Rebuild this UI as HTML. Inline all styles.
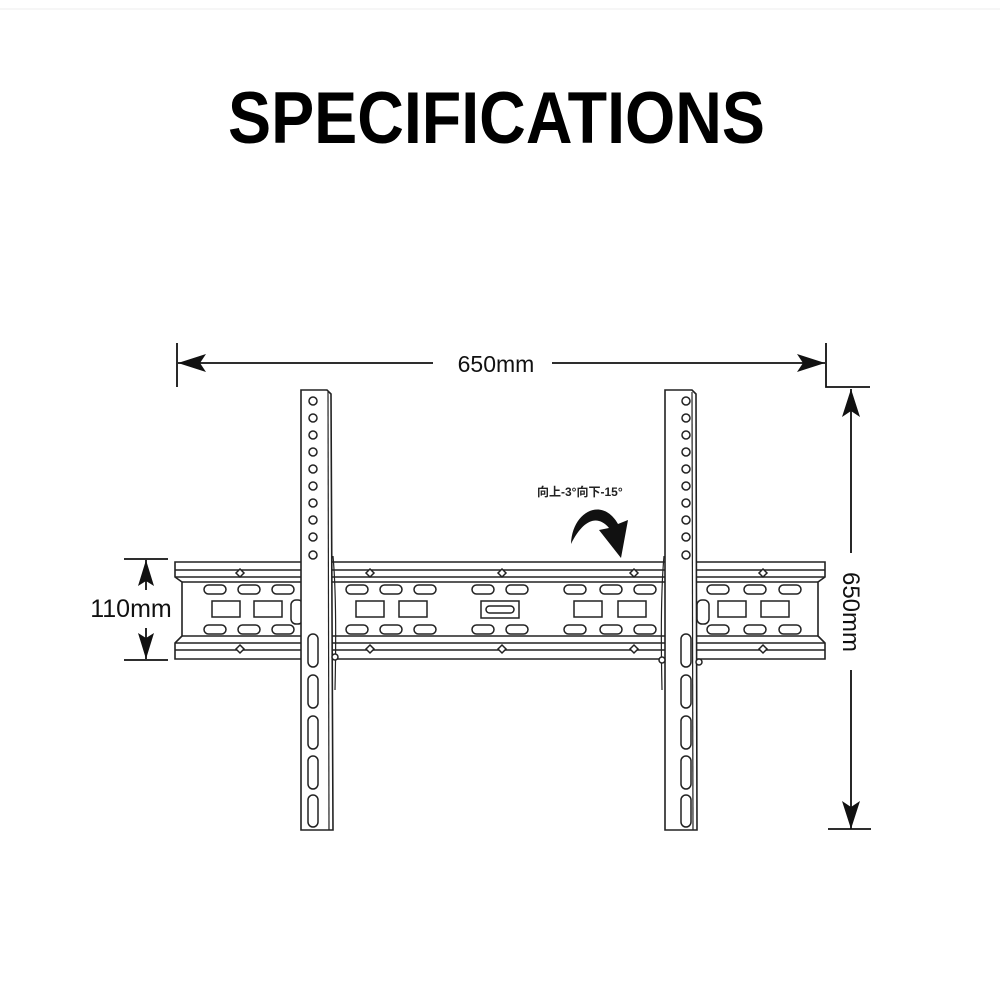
<!DOCTYPE html>
<html><head><meta charset="utf-8"><style>
html,body{margin:0;padding:0;background:#fff;}
svg{display:block}
</style></head><body>
<svg width="1000" height="1000" viewBox="0 0 1000 1000" xmlns="http://www.w3.org/2000/svg">
<rect width="1000" height="1000" fill="#fff"/>
<line x1="0" y1="9" x2="1000" y2="9" stroke="#eee" stroke-width="1"/>
<text x="228" y="143" font-family="Liberation Sans, sans-serif" font-weight="bold" font-size="73" textLength="537" lengthAdjust="spacingAndGlyphs" fill="#000">SPECIFICATIONS</text>

<g stroke="#111" fill="none" stroke-width="1.8">
<line x1="177" y1="343" x2="177" y2="387"/>
<polyline points="826,343 826,387 870,387"/>
<line x1="178" y1="363" x2="433" y2="363"/>
<line x1="552" y1="363" x2="825" y2="363"/>
<line x1="851" y1="389" x2="851" y2="553"/>
<line x1="851" y1="670" x2="851" y2="829"/>
<line x1="828" y1="829" x2="871" y2="829"/>
<line x1="124" y1="559" x2="168" y2="559"/>
<line x1="124" y1="660" x2="168" y2="660"/>
<line x1="146" y1="560" x2="146" y2="590"/>
<line x1="146" y1="628" x2="146" y2="659"/>
</g>
<g fill="#111">
<polygon points="178,363 206,354 200,363 206,372"/>
<polygon points="825,363 797,354 803,363 797,372"/>
<polygon points="851,389 842,417 851,411 860,417"/>
<polygon points="851,829 842,801 851,807 860,801"/>
<polygon points="146,560 138,586 146,581 154,586"/>
<polygon points="146,659 138,633 146,638 154,633"/>
</g>
<text x="496" y="372" text-anchor="middle" font-family="Liberation Sans, sans-serif" font-size="23" fill="#111">650mm</text>
<text x="131" y="617" text-anchor="middle" font-family="Liberation Sans, sans-serif" font-size="25" fill="#111">110mm</text>
<text transform="translate(843,612) rotate(90)" text-anchor="middle" font-family="Liberation Sans, sans-serif" font-size="24" fill="#111">650mm</text>

<g stroke="#222" fill="#fff" stroke-width="1.6">
<path d="M175,562 L825,562 L825,577 L818,582 L818,636 L825,643 L825,659 L175,659 L175,643 L182,636 L182,582 L175,577 Z"/>
</g>
<g stroke="#222" fill="none" stroke-width="1.5">
<line x1="175" y1="570" x2="825" y2="570"/>
<line x1="175" y1="577" x2="825" y2="577"/>
<line x1="182" y1="582" x2="818" y2="582"/>
<line x1="182" y1="636" x2="818" y2="636"/>
<line x1="175" y1="643" x2="825" y2="643"/>
<line x1="175" y1="650" x2="825" y2="650"/>
</g>
<g stroke="#222" fill="#fff" stroke-width="1.5">
<g id="dm">
<polygon points="240,569 244,573 240,577 236,573"/>
<polygon points="370,569 374,573 370,577 366,573"/>
<polygon points="502,569 506,573 502,577 498,573"/>
<polygon points="634,569 638,573 634,577 630,573"/>
<polygon points="763,569 767,573 763,577 759,573"/>
</g>
<use href="#dm" y="76"/>
<g id="ov">
<rect x="204" y="585" width="22" height="9" rx="4.5"/>
<rect x="238" y="585" width="22" height="9" rx="4.5"/>
<rect x="272" y="585" width="22" height="9" rx="4.5"/>
<rect x="346" y="585" width="22" height="9" rx="4.5"/>
<rect x="380" y="585" width="22" height="9" rx="4.5"/>
<rect x="414" y="585" width="22" height="9" rx="4.5"/>
<rect x="472" y="585" width="22" height="9" rx="4.5"/>
<rect x="506" y="585" width="22" height="9" rx="4.5"/>
<rect x="564" y="585" width="22" height="9" rx="4.5"/>
<rect x="600" y="585" width="22" height="9" rx="4.5"/>
<rect x="634" y="585" width="22" height="9" rx="4.5"/>
<rect x="707" y="585" width="22" height="9" rx="4.5"/>
<rect x="744" y="585" width="22" height="9" rx="4.5"/>
<rect x="779" y="585" width="22" height="9" rx="4.5"/>
</g>
<use href="#ov" y="40"/>
<rect x="212" y="601" width="28" height="16"/>
<rect x="254" y="601" width="28" height="16"/>
<rect x="356" y="601" width="28" height="16"/>
<rect x="399" y="601" width="28" height="16"/>
<rect x="574" y="601" width="28" height="16"/>
<rect x="618" y="601" width="28" height="16"/>
<rect x="718" y="601" width="28" height="16"/>
<rect x="761" y="601" width="28" height="16"/>
<rect x="481" y="601" width="38" height="17"/>
<rect x="486" y="606" width="28" height="7" rx="3.5"/>
<rect x="291" y="600" width="12" height="24" rx="5"/>
<rect x="697" y="600" width="12" height="24" rx="5"/>
</g>

<g stroke="#222" fill="#fff" stroke-width="1.6">
<path d="M301,390 L327,390 L331,394 L333,830 L301,830 Z"/>
<path d="M665,390 L692,390 L696,394 L697,830 L665,830 Z"/>
</g>
<g stroke="#222" fill="none" stroke-width="1.2">
<line x1="328" y1="392" x2="329" y2="830"/>
<line x1="692" y1="392" x2="693" y2="830"/>
<path d="M333,556 Q337,600 335,690"/>
<path d="M664,556 Q660,600 662,690"/>
</g>
<g stroke="#222" fill="#fff" stroke-width="1.5">
<g id="holes">
<circle cx="313" cy="401" r="4"/><circle cx="313" cy="418" r="4"/><circle cx="313" cy="435" r="4"/>
<circle cx="313" cy="452" r="4"/><circle cx="313" cy="469" r="4"/><circle cx="313" cy="486" r="4"/>
<circle cx="313" cy="503" r="4"/><circle cx="313" cy="520" r="4"/><circle cx="313" cy="537" r="4"/>
<circle cx="313" cy="555" r="4"/>
<rect x="308" y="634" width="10" height="33" rx="5"/>
<rect x="308" y="675" width="10" height="33" rx="5"/>
<rect x="308" y="716" width="10" height="33" rx="5"/>
<rect x="308" y="756" width="10" height="33" rx="5"/>
<rect x="308" y="795" width="10" height="32" rx="5"/>
</g>
<use href="#holes" x="373"/>
<circle cx="335" cy="657" r="3"/><circle cx="662" cy="660" r="3"/><circle cx="699" cy="662" r="3"/>
</g>

<path d="M571,544 C572,512 602,496 618,524 L628,520 L621,558 L599,530 L609,528 C597,514 583,520 571,544 Z" fill="#111"/>
<text x="537" y="496" font-family="Liberation Sans, 'Noto Sans CJK SC', sans-serif" font-weight="bold" font-size="12" fill="#222">向上-3°向下-15°</text>
</svg>
</body></html>
